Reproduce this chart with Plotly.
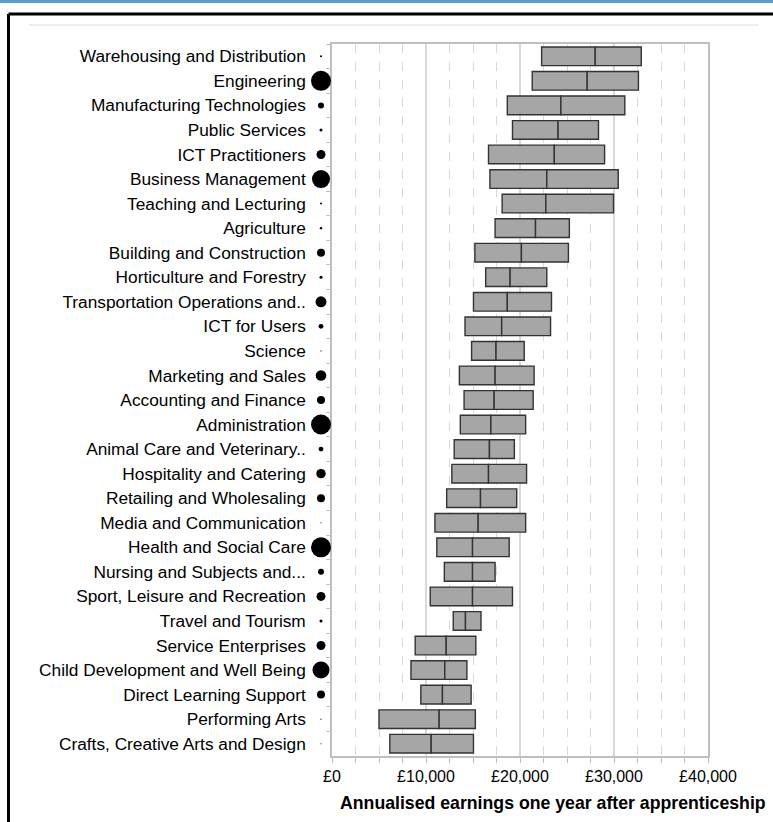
import plotly.graph_objects as go

categories = [
    "Warehousing and Distribution", "Engineering", "Manufacturing Technologies",
    "Public Services", "ICT Practitioners", "Business Management",
    "Teaching and Lecturing", "Agriculture", "Building and Construction",
    "Horticulture and Forestry", "Transportation Operations and..", "ICT for Users",
    "Science", "Marketing and Sales", "Accounting and Finance", "Administration",
    "Animal Care and Veterinary..", "Hospitality and Catering", "Retailing and Wholesaling",
    "Media and Communication", "Health and Social Care", "Nursing and Subjects and...",
    "Sport, Leisure and Recreation", "Travel and Tourism", "Service Enterprises",
    "Child Development and Well Being", "Direct Learning Support", "Performing Arts",
    "Crafts, Creative Arts and Design",
]
q1 = [22300, 21300, 18650, 19200, 16650, 16800, 18100, 17350, 15200, 16350,
      15050, 14150, 14850, 13550, 14050, 13650, 13000, 12750, 12200, 10950,
      11150, 11950, 10450, 12900, 8850, 8400, 9450, 5000, 6150]
median = [28000, 27150, 24350, 24050, 23650, 22850, 22750, 21650, 20150, 18950,
          18650, 18050, 17450, 17350, 17250, 16900, 16750, 16650, 15800, 15550,
          14950, 14950, 14950, 14200, 12150, 12000, 11750, 11400, 10550]
q3 = [32900, 32600, 31150, 28350, 29000, 30450, 29950, 25250, 25150, 22850,
      23350, 23250, 20450, 21500, 21400, 20600, 19400, 20700, 19650, 20600,
      18850, 17350, 19200, 15850, 15300, 14350, 14800, 15250, 15050]
# relative number of apprentices (dot area)
volume = [1, 100, 9, 2.3, 20, 81, 1, 1.5, 16, 2.3, 30, 6, 0.3, 28, 16, 100,
          6, 22, 16, 0.3, 100, 9, 20, 2.3, 20, 72, 16, 0.3, 0.3]
x_ticks = [0, 10000, 20000, 30000, 40000]
x_tick_labels = ["£" + f"{v:,}" for v in x_ticks]

W, H = 773, 822
ML, MR, MT, MB = 310, 65, 44, 66
PLOT_LEFT = 332
pw = W - ML - MR
ph = H - MT - MB


def px_x(p):
    return (p - ML) / pw


def px_y(p):
    return (H - MB - p) / ph


dot_size = [20 * (v / 100) ** 0.5 for v in volume]
n_cat = len(categories)

fig = go.Figure()
fig.add_trace(go.Bar(
    y=categories, x=[m - a for m, a in zip(median, q1)], base=q1,
    orientation="h", width=0.76,
    marker=dict(color="#a6a6a6", line=dict(color="#333333", width=1.4)),
    showlegend=False, hoverinfo="skip"))
fig.add_trace(go.Bar(
    y=categories, x=[b - m for b, m in zip(q3, median)], base=median,
    orientation="h", width=0.76,
    marker=dict(color="#a6a6a6", line=dict(color="#333333", width=1.4)),
    showlegend=False, hoverinfo="skip"))
fig.add_trace(go.Scatter(
    y=categories, x=[0.5] * n_cat, xaxis="x2", yaxis="y",
    mode="markers",
    marker=dict(color="#000000", opacity=1, size=dot_size, line=dict(width=0)),
    showlegend=False, hoverinfo="skip"))

fig.update_layout(
    width=W, height=H, barmode="overlay",
    margin=dict(l=ML, r=MR, t=MT, b=MB),
    paper_bgcolor="white", plot_bgcolor="white",
    font=dict(family="Liberation Sans, Arial, sans-serif", color="#000000", size=17),
    xaxis=dict(
        domain=[px_x(PLOT_LEFT), 1], range=[0, 40000],
        tickvals=x_ticks, ticktext=x_tick_labels,
        tickfont=dict(size=16), showgrid=True, gridcolor="#d9d9d9", gridwidth=1.5,
        showline=True, linecolor="#bfbfbf", linewidth=1.5, mirror=True,
        ticks="outside", ticklen=5, tickcolor="#bfbfbf",
        minor=dict(dtick=2500, tick0=0, showgrid=True, gridcolor="#d9d9d9",
                   griddash="dash", gridwidth=1, ticks="outside", ticklen=5,
                   tickcolor="#bfbfbf"),
        zeroline=False, fixedrange=True,
    ),
    xaxis2=dict(domain=[px_x(311), px_x(331)], range=[0, 1], visible=False,
                anchor="y", fixedrange=True),
    yaxis=dict(
        categoryorder="array", categoryarray=categories,
        range=[n_cat - 0.5, -0.5], autorange=False,
        anchor="x", showline=True, linecolor="#bfbfbf", linewidth=1.5, mirror=True,
        ticks="outside", ticklen=4, tickcolor="#bfbfbf", tickson="boundaries",
        ticklabelstandoff=21, tickfont=dict(size=17.3), showgrid=False, fixedrange=True,
    ),
    annotations=[dict(
        text="<b>Annualised earnings one year after apprenticeship</b>",
        xref="paper", yref="paper", x=px_x(768), y=px_y(803),
        xanchor="right", yanchor="middle", showarrow=False,
        font=dict(size=17.7, color="#000000"))],
    shapes=[
        dict(type="rect", xref="paper", yref="paper", x0=px_x(-5), x1=px_x(780),
             y0=px_y(3), y1=px_y(-5), fillcolor="#5b9bd5", line=dict(width=0),
             layer="above"),
        dict(type="line", xref="paper", yref="paper", x0=px_x(8.5), x1=px_x(790),
             y0=px_y(14), y1=px_y(14), line=dict(color="black", width=3)),
        dict(type="line", xref="paper", yref="paper", x0=px_x(8.5), x1=px_x(8.5),
             y0=px_y(14), y1=px_y(830), line=dict(color="black", width=3)),
        dict(type="line", xref="paper", yref="paper", x0=px_x(29), x1=px_x(759),
             y0=px_y(25), y1=px_y(25), line=dict(color="#e8e8e8", width=1.5)),
    ],
)

fig.write_html(
    "out.html",
    config={"displayModeBar": False},
    post_script="document.body.style.margin='0';document.body.style.overflow='hidden';",
)
